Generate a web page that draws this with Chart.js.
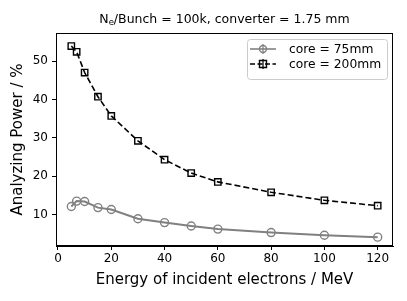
<!DOCTYPE html>
<html>
<head>
<meta charset="utf-8">
<script src="https://cdn.jsdelivr.net/npm/chart.js@4/dist/chart.umd.min.js"></script>
<style>
  html, body { margin: 0; padding: 0; background: #fff; }
  #wrap { width: 407px; height: 301px; }
</style>
</head>
<body>
<div id="wrap"><canvas id="apChart" width="407" height="301"></canvas></div>
<script>
// energy of incident electrons (MeV)
const energy = [5, 7, 10, 15, 20, 30, 40, 50, 60, 80, 100, 120];
// analyzing power (%)
const core75 = [12.1, 13.5, 13.4, 11.8, 11.3, 8.9, 7.9, 7.0, 6.2, 5.3, 4.6, 4.1];
const core200 = [53.9, 52.4, 47.0, 40.7, 35.7, 29.2, 24.3, 20.8, 18.5, 15.8, 13.7, 12.3];
const seriesNames = ['core = 75mm', 'core = 200mm'];
const xTicks = [0, 20, 40, 60, 80, 100, 120];
const yTicks = [10, 20, 30, 40, 50];

const FONT = 'DejaVu Sans';
const GRAY = '#808080';

const toPoints = (ys) => energy.map((x, i) => ({ x: x, y: ys[i] }));

// frame, title with subscript, and legend like matplotlib
const decorations = {
    id: 'decorations',
    afterDraw(chart) {
        const ctx = chart.ctx;
        const a = chart.chartArea;
        ctx.save();
        ctx.strokeStyle = '#000';
        ctx.lineWidth = 1;
        ctx.strokeRect(a.left + 0.5, a.top + 0.5, a.right - a.left - 1, a.bottom - a.top - 1);

        // title: N_e/Bunch = 100k, converter = 1.75 mm
        ctx.fillStyle = '#000';
        ctx.textBaseline = 'alphabetic';
        const big = '12.5px "' + FONT + '"';
        const small = '8.5px "' + FONT + '"';
        const rest = '/Bunch = 100k, converter = 1.75 mm';
        ctx.font = big;
        const wN = ctx.measureText('N').width;
        const wRest = ctx.measureText(rest).width;
        ctx.font = small;
        const wE = ctx.measureText('e').width;
        const total = wN + wE + wRest;
        let tx = (a.left + a.right) / 2 - total / 2;
        const ty = 23;
        ctx.font = big;
        ctx.textAlign = 'left';
        ctx.fillText('N', tx, ty);
        tx += wN;
        ctx.font = small;
        ctx.fillText('e', tx, ty + 2);
        tx += wE;
        ctx.font = big;
        ctx.fillText(rest, tx, ty);

        // legend
        const bx = 247, by = 39, bw = 140, bh = 40;
        ctx.beginPath();
        ctx.roundRect(bx + 0.5, by + 0.5, bw, bh, 3);
        ctx.fillStyle = 'rgba(255,255,255,0.8)';
        ctx.fill();
        ctx.strokeStyle = '#cccccc';
        ctx.stroke();

        const rows = [
            { y: 49, color: GRAY, dash: [], style: 'circle' },
            { y: 64, color: '#000', dash: [5, 2.5], style: 'rect' }
        ];
        rows.forEach((r, i) => {
            ctx.strokeStyle = r.color;
            ctx.lineWidth = 1.6;
            ctx.setLineDash(r.dash);
            ctx.beginPath();
            ctx.moveTo(250, r.y);
            ctx.lineTo(276, r.y);
            ctx.stroke();
            ctx.setLineDash([]);
            ctx.lineWidth = 1.2;
            // error bar
            ctx.beginPath();
            ctx.moveTo(263, r.y - 5);
            ctx.lineTo(263, r.y + 5);
            ctx.stroke();
            ctx.lineWidth = 1.4;
            ctx.beginPath();
            if (r.style === 'circle') {
                ctx.arc(263, r.y, 3.5, 0, Math.PI * 2);
            } else {
                ctx.rect(259.5, r.y - 3.5, 7, 7);
            }
            ctx.stroke();
            ctx.fillStyle = '#000';
            ctx.font = '12.3px "' + FONT + '"';
            ctx.textBaseline = 'middle';
            ctx.fillText(seriesNames[i], 289, r.y + 1);
        });
        ctx.restore();
    }
};

new Chart(document.getElementById('apChart').getContext('2d'), {
    type: 'line',
    data: {
        datasets: [
            {
                label: seriesNames[0],
                data: toPoints(core75),
                borderColor: GRAY,
                borderWidth: 2,
                pointStyle: 'circle',
                pointRadius: 4,
                pointBorderWidth: 1.4,
                pointBorderColor: GRAY,
                pointBackgroundColor: 'rgba(0,0,0,0)',
                fill: false,
                tension: 0
            },
            {
                label: seriesNames[1],
                data: toPoints(core200),
                borderColor: '#000',
                borderWidth: 1.6,
                borderDash: [6, 3],
                pointStyle: 'rect',
                pointRadius: 4.5,
                pointBorderWidth: 1.4,
                pointBorderColor: '#000',
                pointBackgroundColor: 'rgba(0,0,0,0)',
                fill: false,
                tension: 0
            }
        ]
    },
    options: {
        responsive: false,
        animation: false,
        devicePixelRatio: 1,
        layout: { padding: { top: 33, right: 14, left: 0, bottom: 0 } },
        plugins: {
            legend: { display: false },
            title: { display: false },
            tooltip: { enabled: false }
        },
        scales: {
            x: {
                type: 'linear',
                min: -0.75,
                max: 125.75,
                afterBuildTicks: (s) => { s.ticks = xTicks.map(v => ({ value: v })); },
                afterFit: (s) => { s.height = 55; },
                ticks: { color: '#000', font: { family: FONT, size: 12 }, padding: 2, maxRotation: 0 },
                grid: { drawOnChartArea: false, drawTicks: true, tickLength: 4, color: '#000' },
                border: { color: '#000', width: 1 },
                title: {
                    display: true,
                    text: 'Energy of incident electrons / MeV',
                    color: '#000',
                    font: { family: FONT, size: 15 },
                    padding: { top: 0, bottom: 12 }
                }
            },
            y: {
                type: 'linear',
                min: 1.8,
                max: 57.3,
                afterBuildTicks: (s) => { s.ticks = yTicks.map(v => ({ value: v })); },
                afterFit: (s) => { s.width = 56; },
                ticks: { color: '#000', font: { family: FONT, size: 12 }, padding: 4 },
                grid: { drawOnChartArea: false, drawTicks: true, tickLength: 4, color: '#000' },
                border: { color: '#000', width: 1 },
                title: {
                    display: true,
                    text: 'Analyzing Power / %',
                    color: '#000',
                    font: { family: FONT, size: 15 },
                    padding: { top: 9.5, bottom: 0 }
                }
            }
        }
    },
    plugins: [decorations]
});
</script>
</body>
</html>
